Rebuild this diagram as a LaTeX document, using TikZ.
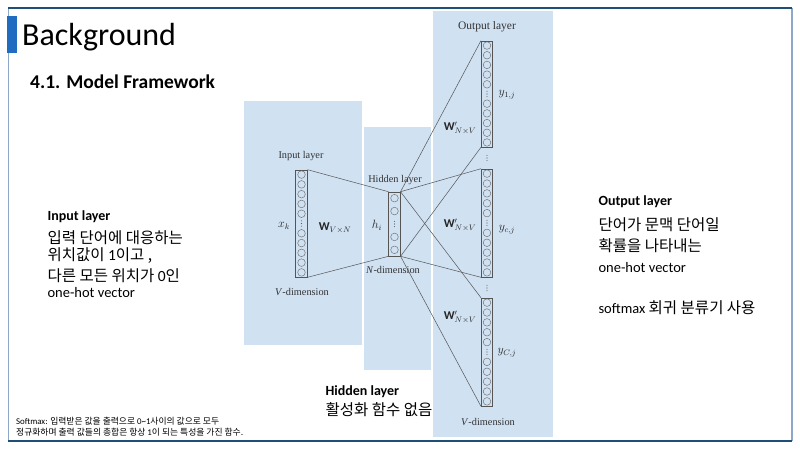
\documentclass[tikz,border=0pt]{standalone}
\usepackage{fontspec}
\setmainfont{Carlito}
\newfontfamily\kr{Noto Sans CJK KR}
\newfontfamily\tms{Liberation Serif}
\usetikzlibrary{calc}
\definecolor{panel}{HTML}{D0E1F2}
\definecolor{framedark}{HTML}{1F4E79}
\definecolor{framelight}{HTML}{8EA9C8}
\definecolor{accent}{HTML}{1F6CC0}
\definecolor{vecline}{HTML}{555555}
\tikzset{
  panelbox/.style={fill=panel, draw=none},
  vecbox/.style={draw=vecline, line width=0.6pt, inner sep=0pt, minimum width=11.5pt},
  unit/.style={circle, draw=vecline!85, line width=0.45pt, inner sep=0pt, minimum size=7.6pt},
  wire/.style={draw=vecline, line width=0.5pt},
  lbl/.style={font=\tms\fontsize{10.3}{12}\selectfont, text=black!80},
  mlbl/.style={font=\fontsize{12}{13}\selectfont, text=black!85},
  dotfill/.style={fill=black!65},
  head/.style={anchor=west, font=\bfseries\fontsize{14}{16}\selectfont},
  krtext/.style={anchor=west, font=\kr\fontsize{15.5}{18}\selectfont},
  entext/.style={anchor=west, font=\fontsize{14.5}{17}\selectfont},
}
\newcommand\vdotsat[1]{%
  \fill[dotfill] ($(#1)+(0,-2.6)$) circle (0.55pt);
  \fill[dotfill] (#1) circle (0.55pt);
  \fill[dotfill] ($(#1)+(0,2.6)$) circle (0.55pt);}
\begin{document}
\begin{tikzpicture}[x=1pt,y=-1pt]
\useasboundingbox (0,0) rectangle (800,450);
\fill[white] (0,0) rectangle (800,450);
% frame
\draw[framelight, line width=1pt] (8,8) -- (8,441);
\draw[framelight, line width=2pt] (792,8) -- (792,441);
\draw[framedark, line width=1.2pt] (8,8) -- (792,8);
\draw[framedark, line width=1.2pt] (8,441) -- (792,441);
\fill[accent] (7,16) rectangle (17,53);
% titles
\node[anchor=west, font=\fontsize{32}{38}\selectfont, inner sep=0pt] (title) at (22,37) {Background};
\node[anchor=west, font=\bfseries\fontsize{19.5}{23}\selectfont, inner sep=0pt] (sub) at (30,82) {4.1. Model Framework};
% panels
\fill[panelbox] (244,101) rectangle (362,345);
\fill[panelbox] (364,127) rectangle (431,370);
\fill[panelbox] (433,11) rectangle (553,437);
% vectors
\node[vecbox, minimum height=107pt] (inbox) at (301.5,223.5) {};
\node[vecbox, minimum height=64pt] (hidbox) at (394.5,224) {};
\node[vecbox, minimum height=106pt] (out1) at (487,94) {};
\node[vecbox, minimum height=108pt] (out2) at (487,223) {};
\node[vecbox, minimum height=108pt] (out3) at (487,352) {};
\foreach \b in {inbox,out1,out2,out3}{
  \foreach \i in {1,2,3,4,5,7,8,9,10,11}{
    \node[unit] at ($(\b.north)!{(\i-0.5)/11}!(\b.south)$) {};
  }
  \coordinate (dc) at ($(\b.north)!{5.5/11}!(\b.south)$);
  \vdotsat{dc}
}
\foreach \i in {1,2,4,5}{
  \node[unit] at ($(hidbox.north)!{(\i-0.5)/5}!(hidbox.south)$) {};
}
\coordinate (hdc) at ($(hidbox.north)!{2.5/5}!(hidbox.south)$);
\vdotsat{hdc}
% dots between output vectors
\coordinate (d1) at (487,158);
\coordinate (d2) at (487,288);
\vdotsat{d1}
\vdotsat{d2}
% wires
\draw[wire] (inbox.north east) -- (hidbox.north west);
\draw[wire] (inbox.south east) -- (hidbox.south west);
\foreach \o in {out1,out2,out3}{
  \draw[wire] (hidbox.north east) -- (\o.north west);
  \draw[wire] (hidbox.south east) -- (\o.south west);
}
% diagram labels
\node[lbl] (inl) at (301,156) {Input layer};
\node[lbl] (vd1) at (302,292) {\textit{V}-dimension};
\node[mlbl] (xk) at (284,226) {$x_k$};
\node[mlbl] (wvn) at (335,228) {$\mathbf{W}_{V\times N}$};
\node[lbl] (hl) at (395,180) {Hidden layer};
\node[mlbl] (hi) at (377,225) {$h_i$};
\node[lbl] (nd) at (393,270) {\textit{N}-dimension};
\node[lbl, font=\tms\fontsize{11.5}{13}\selectfont] (ol) at (487,27) {Output layer};
\node[mlbl] (y1) at (507,95) {$y_{1,j}$};
\node[mlbl] (w1) at (460,128) {$\mathbf{W}'_{N\times V}$};
\node[mlbl] (y2) at (507,230) {$y_{c,j}$};
\node[mlbl] (w2) at (460,225) {$\mathbf{W}'_{N\times V}$};
\node[mlbl] (y3) at (507,353) {$y_{C,j}$};
\node[mlbl] (w3) at (460,317) {$\mathbf{W}'_{N\times V}$};
\node[lbl] (vd2) at (488,422) {\textit{V}-dimension};
% left text
\node[head] (ih) at (44,217) {Input layer};
\node[krtext] (i1) at (44,238) {입력 단어에 대응하는};
\node[krtext] (i2) at (44,256) {위치값이 {\rmfamily 1}이고 ,};
\node[krtext] (i3) at (44,276) {다른 모든 위치가 {\rmfamily 0}인};
\node[entext] (i4) at (44,293) {one-hot vector};
% right text
\node[head] (oh) at (595,202) {Output layer};
\node[krtext] (o1) at (595,225) {단어가 문맥 단어일};
\node[krtext] (o2) at (595,246) {확률을 나타내는};
\node[entext] (o3) at (595,268) {one-hot vector};
\node[entext] (o4) at (595,308) {softmax {\kr\fontsize{15.5}{18}\selectfont 회귀 분류기 사용}};
% hidden text
\node[head] (hh) at (322,392) {Hidden layer};
\node[krtext] (h1) at (322,410) {활성화 함수 없음};
% footer
\node[anchor=west, font=\fontsize{8.8}{10}\selectfont, inner sep=0pt] (f1) at (16,421) {Softmax: {\kr 입력받은 값을 출력으로 }0\textasciitilde1{\kr 사이의 값으로 모두}};
\node[anchor=west, font=\kr\fontsize{8.8}{10}\selectfont, inner sep=0pt] (f2) at (16,432) {정규화하며 출력 값들의 총합은 항상 {\rmfamily 1}이 되는 특성을 가진 함수.};
\end{tikzpicture}
\end{document}
